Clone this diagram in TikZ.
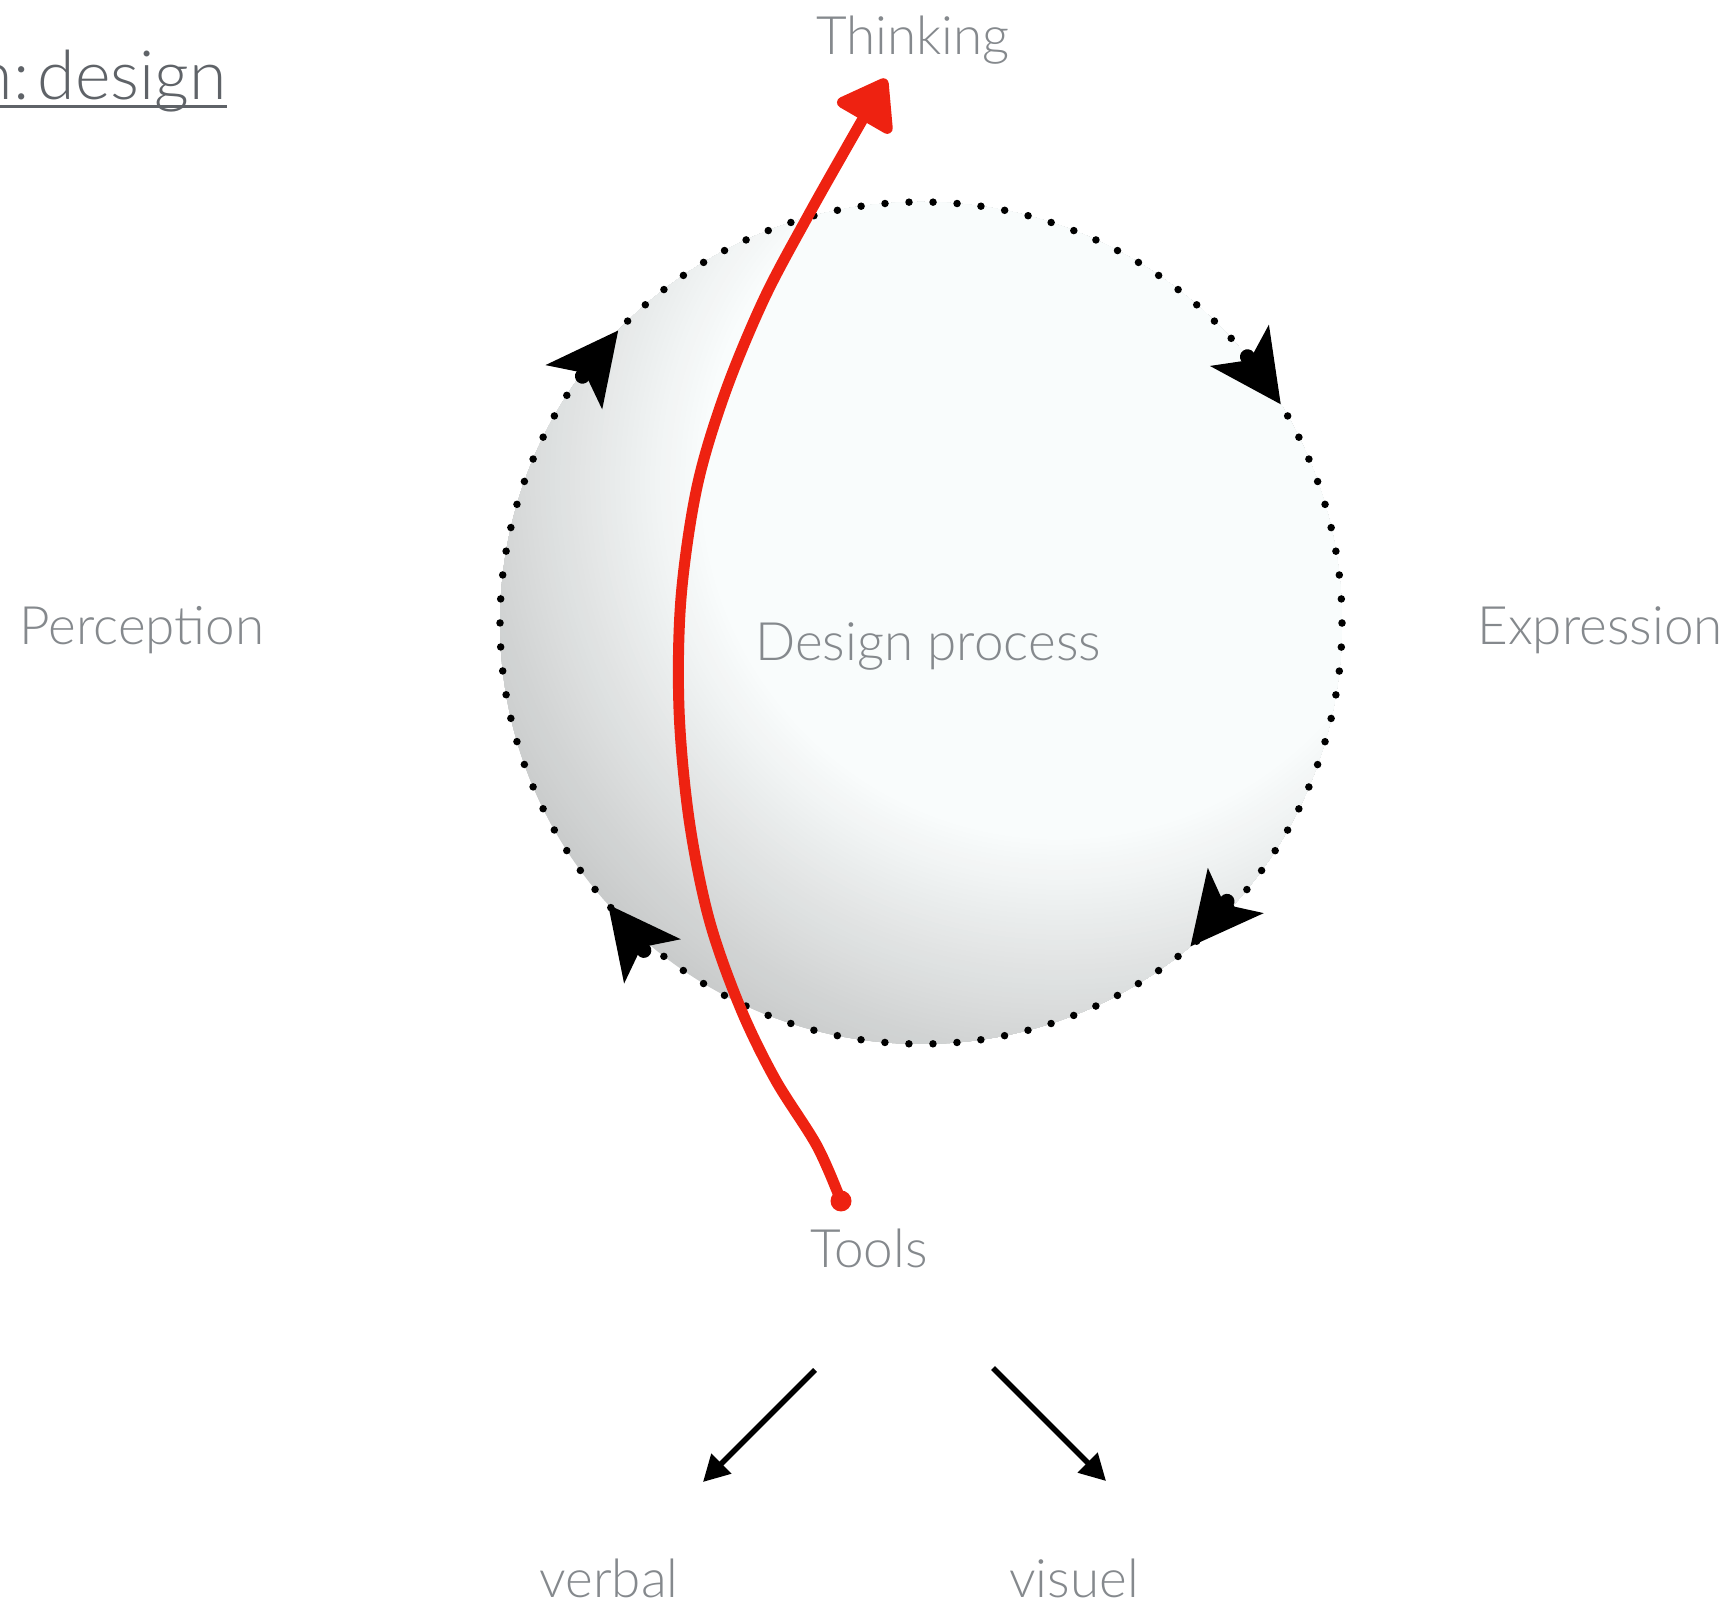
\documentclass[tikz,border=0pt]{standalone}
\usepackage{fontspec}
\setmainfont{Lato Light}
\usetikzlibrary{calc,arrows.meta,positioning}
\definecolor{txtc}{HTML}{85898D}
\definecolor{ttlc}{HTML}{5F6368}
\definecolor{redc}{HTML}{EE2211}
\definecolor{shl}{HTML}{F9FCFC}
\definecolor{shd}{HTML}{C9CBCB}
\tikzset{
  lbl/.style={font=\fontsize{53}{60}\selectfont,text=txtc,inner sep=0pt,anchor=base},
  ar/.style={-{Triangle[length=26pt,width=27pt]},line width=5.5pt,black},
  rd/.style={-{Triangle[length=52pt,width=70pt,round]},line width=11pt,redc,line cap=round,line join=round},
  dots/.style={line width=7.5pt,line cap=round,dash pattern=on 0pt off 24.05pt}
}
\newcommand{\cyc}[2]{\begin{scope}[shift={($(c)+(#1:421)$)},rotate=#2]
  \fill (0,0) -- (-72,36) -- (-54,0) -- (-72,-36) -- cycle;
  \fill (-58,0) circle (7.5);
  \end{scope}}

\begin{document}
\begin{tikzpicture}[x=1pt,y=1pt]
\useasboundingbox (0,0) rectangle (1736,1605);
\coordinate (c) at (921,982);
\coordinate (lc) at ($(c)+(139,143)$);
% lit sphere
\begin{scope}
\clip (c) circle (421);
\foreach \i [evaluate=\i as \p using \i*100/52, evaluate=\i as \rr using 620-\i*5] in {0,...,52}
  \fill[shl!\p!shd] (lc) circle (\rr);
\end{scope}
\draw[dots] (c) circle (421);
% clockwise tips
\cyc{136}{52}
\cyc{31.3}{-55}
\cyc{-50.2}{-129}
\cyc{222}{128}
\node[lbl] (thinking) at (913,1550) {Thinking};
\node[lbl,font=\fontsize{68}{76}\selectfont,text=ttlc,anchor=base east] (ttl) at (227,1505) {n:\hspace{0.12em}design};
\draw[ttlc,line width=3pt] ([yshift=-7pt]ttl.base west) -- ([yshift=-7pt]ttl.base east);
\node[lbl] (perception) at (142,960) {Perception};
\node[lbl] (expression) at (1600,960) {Expression};
\node[lbl] (process) at (928,944) {Design process};
\node[lbl] (tools) at (869,337) {Tools};
\node[lbl] (verbal) at (609,8) {verbal};
\node[lbl] (visuel) at (1074,8) {visuel};
% red stroke
\coordinate (rs) at (841,404);
\coordinate (re) at (886,1526);
\draw[rd] plot[smooth,tension=0.55] coordinates {(rs) (817,459) (775,526) (740,598) (709,686) (689,786) (679,896) (681,1007) (697,1118) (725,1212) (764,1306) (808,1389) (852,1467) (re)};
\fill[redc] (rs) circle (10.5);
\coordinate (a1s) at (815,235);
\coordinate (a1e) at (703,123);
\coordinate (a2s) at (993,237);
\coordinate (a2e) at (1106,124);
\draw[ar] (a1s) -- (a1e);
\draw[ar] (a2s) -- (a2e);
\end{tikzpicture}
\end{document}
